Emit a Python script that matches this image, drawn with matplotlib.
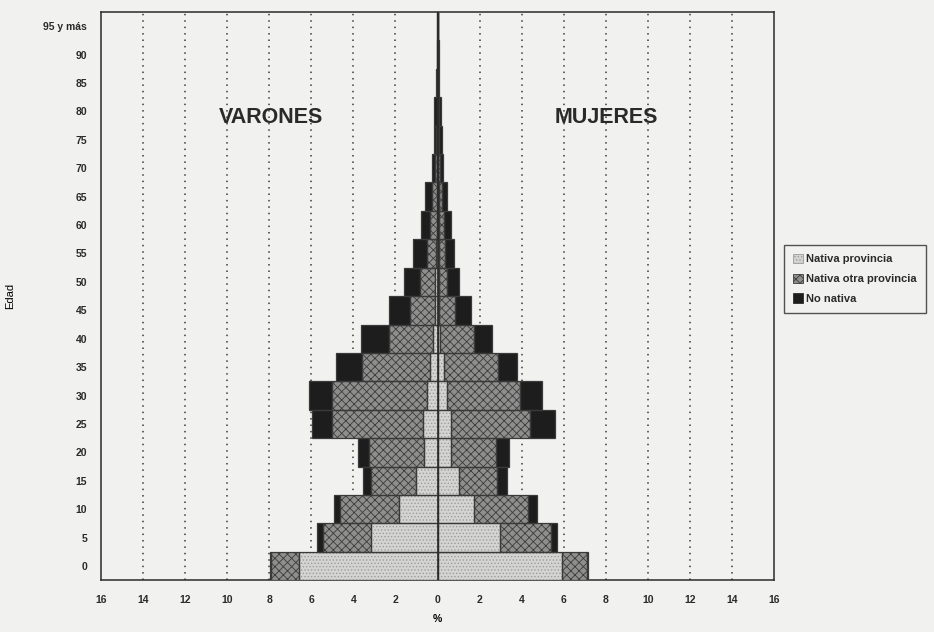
import matplotlib.pyplot as plt
from matplotlib.patches import Patch
import numpy as np

# grupos de edad (quinquenales)
edades = ['0', '5', '10', '15', '20', '25', '30', '35', '40', '45',
          '50', '55', '60', '65', '70', '75', '80', '85', '90', '95 y más']

# varones, % por grupo
var_nat_prov = [6.60, 3.15, 1.82, 1.02, 0.63, 0.69, 0.50, 0.35, 0.22, 0.12,
                0.10, 0.08, 0.05, 0.05, 0.04, 0.02, 0.02, 0.01, 0.01, 0.00]
var_otra_prov = [1.30, 2.28, 2.82, 2.14, 2.61, 4.31, 4.52, 3.23, 2.10, 1.21,
                 0.75, 0.42, 0.33, 0.22, 0.08, 0.05, 0.03, 0.02, 0.01, 0.01]
var_no_nativa = [0.05, 0.32, 0.29, 0.39, 0.55, 0.99, 1.09, 1.27, 1.34, 0.99,
                 0.73, 0.67, 0.41, 0.31, 0.15, 0.12, 0.10, 0.05, 0.03, 0.02]

# mujeres, % por grupo
muj_nat_prov = [5.92, 2.97, 1.75, 1.04, 0.63, 0.64, 0.45, 0.32, 0.10, 0.06,
                0.08, 0.06, 0.05, 0.05, 0.04, 0.02, 0.02, 0.01, 0.01, 0.00]
muj_otra_prov = [1.18, 2.40, 2.56, 1.78, 2.14, 3.75, 3.47, 2.57, 1.61, 0.78,
                 0.39, 0.30, 0.27, 0.16, 0.08, 0.05, 0.03, 0.02, 0.01, 0.01]
muj_no_nativa = [0.04, 0.29, 0.43, 0.47, 0.63, 1.19, 1.03, 0.90, 0.87, 0.74,
                 0.53, 0.43, 0.32, 0.24, 0.16, 0.13, 0.10, 0.05, 0.03, 0.02]

series = ['Nativa provincia', 'Nativa otra provincia', 'No nativa']
fondo = '#f1f1ef'
# (relleno, color de trama, trama)
estilos = [('#d4d4d2', '#9c9c9a', '.....'),
           ('#8e8e8c', '#3c3c3c', 'xxxx'),
           ('#1d1d1d', '#1d1d1d', '')]

plt.rcParams['font.family'] = ['Liberation Sans', 'DejaVu Sans']
plt.rcParams['hatch.linewidth'] = 0.6

fig = plt.figure(figsize=(9.34, 6.32), dpi=100, facecolor=fondo)
ax = fig.add_axes([0.108, 0.082, 0.721, 0.899], facecolor=fondo)

y = np.arange(len(edades))


def barras(valores, signo):
    izq = np.zeros(len(y))
    for vals, (cara, trama_col, trama) in zip(valores, estilos):
        vals = np.array(vals) * signo
        # relleno con trama, luego el contorno encima
        ax.barh(y, vals, left=izq, height=1.0, color=cara, edgecolor=trama_col,
                hatch=trama, linewidth=0, zorder=3)
        ax.barh(y, vals, left=izq, height=1.0, facecolor='none',
                edgecolor='#3a3a3a', linewidth=0.9, zorder=4)
        izq = izq + vals


barras([var_nat_prov, var_otra_prov, var_no_nativa], -1)
barras([muj_nat_prov, muj_otra_prov, muj_no_nativa], 1)

ax.axvline(0, color='#2a2a2a', linewidth=1.2, zorder=5)
for xg in range(-14, 15, 2):
    if xg != 0:
        ax.axvline(xg, color='#3a3a3a', linewidth=1.1, linestyle=(0, (1, 3.2)), zorder=1)

ax.set_xlim(-16, 16)
ax.set_ylim(-0.5, len(edades) - 0.5)
xt = np.arange(-16, 17, 2)
ax.set_xticks(xt)
ax.set_xticklabels([str(abs(v)) for v in xt])
ax.set_yticks(y)
ax.set_yticklabels(edades)
ax.tick_params(axis='both', length=0, labelsize=7.5, colors='#2a2a2a')
ax.tick_params(axis='x', pad=11)
ax.tick_params(axis='y', pad=10)
for lab in ax.get_xticklabels() + ax.get_yticklabels():
    lab.set_fontweight('bold')

for s in ax.spines.values():
    s.set_color('#2a2a2a')
    s.set_linewidth(1.1)

ax.set_xlabel('%', fontsize=7.5, fontweight='bold')
ax.xaxis.set_label_coords(0.5, -0.06)
ax.set_ylabel('Edad', fontsize=8)
ax.yaxis.set_label_coords(-0.128, 0.5)

ax.text(-7.9, 15.8, 'VARONES', fontsize=15.5, fontweight='bold', ha='center', va='center',
        color='#2a2a2a')
ax.text(8.0, 15.8, 'MUJERES', fontsize=15.5, fontweight='bold', ha='center', va='center',
        color='#2a2a2a')

manijas = [Patch(facecolor=c, edgecolor=h if t else '#2a2a2a', hatch=t, linewidth=0.6, label=s)
           for s, (c, h, t) in zip(series, estilos)]
leg = fig.legend(handles=manijas, loc='upper left', bbox_to_anchor=(0.836, 0.618),
                 fontsize=8, frameon=True, fancybox=False, edgecolor='#2a2a2a',
                 facecolor=fondo, handlelength=0.9, handleheight=0.9,
                 handletextpad=0.3, labelspacing=0.85, borderpad=0.8, borderaxespad=0.3)
leg.get_frame().set_linewidth(1.0)
for t in leg.get_texts():
    t.set_fontweight('bold')
    t.set_color('#2a2a2a')

fig.savefig('out.png', dpi=100, facecolor=fondo)
